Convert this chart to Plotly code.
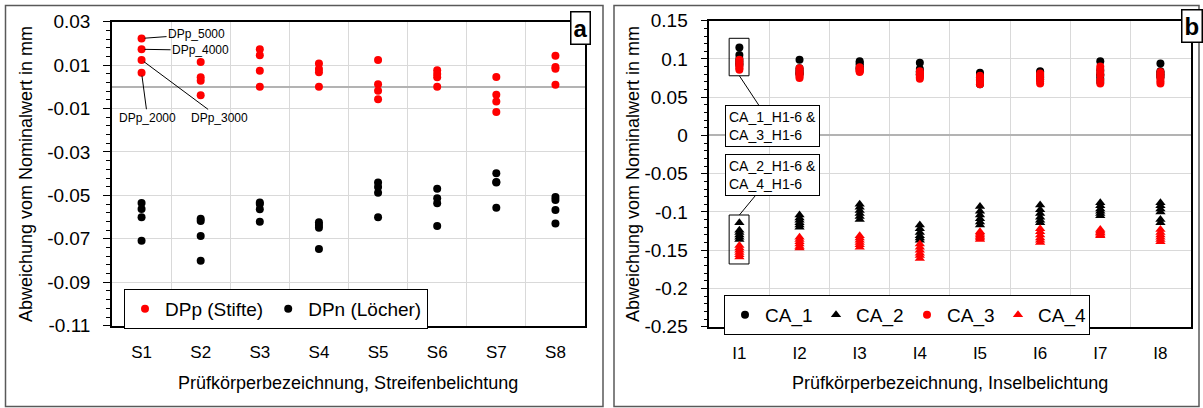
import plotly.graph_objects as go

# ---- data: strip exposure (left panel) ----
strip_labels = ["S1", "S2", "S3", "S4", "S5", "S6", "S7", "S8"]
dpp_stifte = [
    [0.0223, 0.0173, 0.0124, 0.0065],
    [0.0114, 0.0044, 0.0028, -0.0039],
    [0.0173, 0.0145, 0.0074, 0.0001],
    [0.0107, 0.0082, 0.0067, 0.0001],
    [0.0124, 0.0012, -0.0018, -0.0057],
    [0.0076, 0.0059, 0.0044, 0.0001],
    [0.0045, -0.0036, -0.0068, -0.0116],
    [0.0143, 0.0091, 0.0083, 0.0010],
]
dpn_loecher = [
    [-0.0535, -0.0563, -0.0600, -0.0709],
    [-0.0607, -0.0618, -0.0687, -0.0801],
    [-0.0533, -0.0540, -0.0564, -0.0621],
    [-0.0624, -0.0636, -0.0649, -0.0747],
    [-0.0440, -0.0461, -0.0488, -0.0600],
    [-0.0469, -0.0513, -0.0536, -0.0641],
    [-0.0398, -0.0438, -0.0440, -0.0557],
    [-0.0507, -0.0521, -0.0567, -0.0629],
]
dpp_labels = ["DPp_5000", "DPp_4000", "DPp_3000", "DPp_2000"]

left_ytickvals = [0.03, 0.01, -0.01, -0.03, -0.05, -0.07, -0.09, -0.11]
left_yticktext = ["0.03", "0.01", "-0.01", "-0.03", "-0.05", "-0.07", "-0.09", "-0.11"]

# ---- data: island exposure (right panel), H1..H6 per specimen ----
island_labels = ["I1", "I2", "I3", "I4", "I5", "I6", "I7", "I8"]
ca_1 = [
    [0.115, 0.105, 0.100, 0.097, 0.094, 0.092],
    [0.099, 0.088, 0.085, 0.083, 0.081, 0.080],
    [0.097, 0.095, 0.093, 0.090, 0.088, 0.087],
    [0.095, 0.087, 0.084, 0.082, 0.080, 0.079],
    [0.082, 0.079, 0.076, 0.073, 0.070, 0.067],
    [0.084, 0.082, 0.079, 0.077, 0.075, 0.073],
    [0.097, 0.085, 0.080, 0.078, 0.074, 0.070],
    [0.094, 0.084, 0.082, 0.080, 0.078, 0.076],
]
ca_3 = [
    [0.099, 0.096, 0.093, 0.090, 0.088, 0.086],
    [0.088, 0.085, 0.082, 0.080, 0.077, 0.075],
    [0.089, 0.087, 0.086, 0.085, 0.084, 0.083],
    [0.084, 0.082, 0.080, 0.078, 0.076, 0.074],
    [0.078, 0.076, 0.074, 0.072, 0.069, 0.067],
    [0.081, 0.079, 0.076, 0.073, 0.071, 0.068],
    [0.090, 0.087, 0.083, 0.079, 0.072, 0.068],
    [0.083, 0.080, 0.077, 0.074, 0.071, 0.068],
]
ca_2 = [
    [-0.114, -0.124, -0.127, -0.130, -0.133, -0.136],
    [-0.104, -0.108, -0.111, -0.114, -0.117, -0.120],
    [-0.090, -0.094, -0.098, -0.102, -0.106, -0.110],
    [-0.117, -0.122, -0.127, -0.131, -0.134, -0.137],
    [-0.093, -0.099, -0.104, -0.109, -0.113, -0.117],
    [-0.091, -0.097, -0.102, -0.107, -0.111, -0.114],
    [-0.088, -0.092, -0.096, -0.099, -0.102, -0.105],
    [-0.088, -0.092, -0.096, -0.100, -0.110, -0.114],
]
ca_4 = [
    [-0.144, -0.147, -0.150, -0.153, -0.156, -0.159],
    [-0.133, -0.136, -0.139, -0.142, -0.145, -0.147],
    [-0.131, -0.134, -0.137, -0.140, -0.143, -0.146],
    [-0.142, -0.146, -0.150, -0.154, -0.157, -0.161],
    [-0.126, -0.128, -0.130, -0.132, -0.134, -0.136],
    [-0.122, -0.126, -0.130, -0.134, -0.137, -0.140],
    [-0.123, -0.125, -0.127, -0.128, -0.130, -0.131],
    [-0.123, -0.127, -0.130, -0.133, -0.136, -0.139],
]

right_ytickvals = [0.15, 0.1, 0.05, 0, -0.05, -0.1, -0.15, -0.2, -0.25]
right_yticktext = ["0.15", "0.1", "0.05", "0", "-0.05", "-0.1", "-0.15", "-0.2", "-0.25"]

FONT = "Arial, Liberation Sans, sans-serif"
GRID = "#d9d9d9"
W, H = 1203, 408


def flatten(groups, labels):
    xs, ys = [], []
    for lbl, vals in zip(labels, groups):
        for v in vals:
            xs.append(lbl)
            ys.append(v)
    return xs, ys


fig = go.Figure()

# left panel markers
for name, groups, color in [("DPp (Stifte)", dpp_stifte, "#ff0000"),
                            ("DPn (Löcher)", dpn_loecher, "#000000")]:
    xs, ys = flatten(groups, strip_labels)
    fig.add_trace(go.Scatter(x=xs, y=ys, mode="markers", name=name,
                             marker=dict(color=color, size=8, symbol="circle"),
                             xaxis="x", yaxis="y", legend="legend"))

# right panel markers
for name, groups, color, sym in [("CA_1", ca_1, "#000000", "circle"),
                                 ("CA_2", ca_2, "#000000", "triangle-up"),
                                 ("CA_3", ca_3, "#ff0000", "circle"),
                                 ("CA_4", ca_4, "#ff0000", "triangle-up")]:
    xs, ys = flatten(groups, island_labels)
    fig.add_trace(go.Scatter(x=xs, y=ys, mode="markers", name=name,
                             marker=dict(color=color, size=8 if sym == "circle" else 9,
                                         symbol=sym),
                             xaxis="x2", yaxis="y2", legend="legend2"))


def xaxis_cfg(domain, anchor, labels):
    # category axis: grid lines on the category boundaries, names at the centres
    return dict(domain=domain, anchor=anchor, type="category",
                categoryorder="array", categoryarray=labels,
                range=[-0.5, len(labels) - 0.5], tickson="boundaries",
                showgrid=True, gridcolor=GRID, gridwidth=1.3, ticks="",
                ticklabelstandoff=10, automargin=False,
                tickfont=dict(size=17, color="#000", family=FONT),
                showline=True, linecolor="#000", linewidth=1.5, mirror=True,
                zeroline=False)


def yaxis_cfg(domain, anchor, rng, vals, text, minor_dtick):
    return dict(domain=domain, anchor=anchor, range=rng, tickmode="array",
                tickvals=vals, ticktext=text, showgrid=True, gridcolor=GRID,
                gridwidth=1.3, ticks="outside", ticklen=7, tickcolor="#000",
                tickwidth=1.3, ticklabelstandoff=9, automargin=False,
                tickfont=dict(size=19, color="#000", family=FONT),
                showline=True, linecolor="#000", linewidth=1.5, mirror=True,
                zeroline=True, zerolinecolor="#b3b3b3", zerolinewidth=1.5,
                minor=dict(tick0=rng[0], dtick=minor_dtick, ticks="outside",
                           ticklen=4, tickcolor="#000", showgrid=False))


ly = [(H - 325.7) / H, (H - 21.7) / H]
ry = [(H - 326.7) / H, (H - 20.7) / H]
lx = [112 / W, 585 / W]
rx = [709.3 / W, 1190.5 / W]

fig.update_layout(
    width=W, height=H, margin=dict(l=0, r=0, t=0, b=0, autoexpand=False),
    paper_bgcolor="white", plot_bgcolor="white",
    font=dict(family=FONT, color="#000"),
    xaxis=xaxis_cfg(lx, "y", strip_labels),
    yaxis=yaxis_cfg(ly, "x", [-0.11, 0.03], left_ytickvals, left_yticktext, 0.004),
    xaxis2=xaxis_cfg(rx, "y2", island_labels),
    yaxis2=yaxis_cfg(ry, "x2", [-0.25, 0.15], right_ytickvals, right_yticktext, 0.01),
    legend=dict(orientation="h", x=124 / W, y=(H - 289) / H, xanchor="left",
                yanchor="top", bgcolor="white", bordercolor="#000", borderwidth=1,
                font=dict(size=19, family=FONT), itemwidth=30),
    legend2=dict(orientation="h", x=724 / W, y=(H - 295) / H, xanchor="left",
                 yanchor="top", bgcolor="white", bordercolor="#000", borderwidth=1,
                 font=dict(size=19, family=FONT), itemwidth=30,
                 entrywidth=46),
    showlegend=True,
)

ann = []
# axis titles
for xc, txt in [(348, "Prüfkörperbezeichnung, Streifenbelichtung"),
                (950, "Prüfkörperbezeichnung, Inselbelichtung")]:
    ann.append(dict(x=xc / W, y=(H - 383) / H, xref="paper", yref="paper",
                    xanchor="center", yanchor="middle",
                    text=txt, showarrow=False, font=dict(size=18, family=FONT)))
for xc in (26, 633):
    ann.append(dict(x=xc / W, y=(H - 174) / H, xref="paper", yref="paper",
                    xanchor="center", yanchor="middle",
                    text="Abweichung vom Nominalwert in mm", textangle=-90,
                    showarrow=False, font=dict(size=18, family=FONT)))

# DPp labels on S1 points
offsets = [(55, -4), (59, 1), (78, 58), (6, 45)]
for lbl, val, (ax, ay) in zip(dpp_labels, dpp_stifte[0], offsets):
    ann.append(dict(x=strip_labels[0], y=val, xref="x", yref="y", text=lbl,
                    showarrow=True, arrowhead=0, arrowwidth=1, arrowcolor="#000",
                    ax=ax, ay=ay, standoff=3, font=dict(size=12, family=FONT)))

# callout boxes on I1
top_rect = (max(ca_1[0] + ca_3[0]) + 0.012, min(ca_1[0] + ca_3[0]) - 0.008)
bot_rect = (max(ca_2[0] + ca_4[0]) + 0.01, min(ca_2[0] + ca_4[0]) - 0.009)
ann.append(dict(x=island_labels[0], y=top_rect[1], xref="x2", yref="y2",
                text="CA_1_H1-6 &<br>CA_3_H1-6", align="left", showarrow=True,
                arrowhead=0, arrowwidth=1, arrowcolor="#000", ax=33, ay=50,
                bgcolor="white", bordercolor="#000", borderwidth=1, borderpad=3,
                font=dict(size=14, family=FONT)))
ann.append(dict(x=island_labels[0], y=bot_rect[0], xref="x2", yref="y2",
                text="CA_2_H1-6 &<br>CA_4_H1-6", align="left", showarrow=True,
                arrowhead=0, arrowwidth=1, arrowcolor="#000", ax=33, ay=-40,
                bgcolor="white", bordercolor="#000", borderwidth=1, borderpad=3,
                font=dict(size=14, family=FONT)))

# panel letters
for xc, yc, letter in [(580.5, 28, "a"), (1192, 26.5, "b")]:
    ann.append(dict(x=xc / W, y=(H - yc) / H, xref="paper", yref="paper",
                    xanchor="center", yanchor="middle",
                    text="<b>" + letter + "</b>", showarrow=False,
                    bgcolor="white", bordercolor="#000", borderwidth=1.5,
                    borderpad=2, font=dict(size=24, family=FONT)))

fig.update_layout(annotations=ann)

shapes = []
# outer panel frames
for x0, x1 in [(5.5, 603), (614, 1199)]:
    shapes.append(dict(type="rect", xref="paper", yref="paper",
                       x0=x0 / W, x1=x1 / W, y0=(H - 406.5) / H, y1=(H - 5.5) / H,
                       line=dict(color="#595959", width=1.5), layer="below"))
# rectangles around the I1 groups (category index 0)
for y_top, y_bot in [top_rect, bot_rect]:
    shapes.append(dict(type="rect", xref="x2", yref="y2", x0=-0.17, x1=0.16,
                       y0=y_bot, y1=y_top, line=dict(color="#000", width=1)))
fig.update_layout(shapes=shapes)

fig.write_html("out.html")
